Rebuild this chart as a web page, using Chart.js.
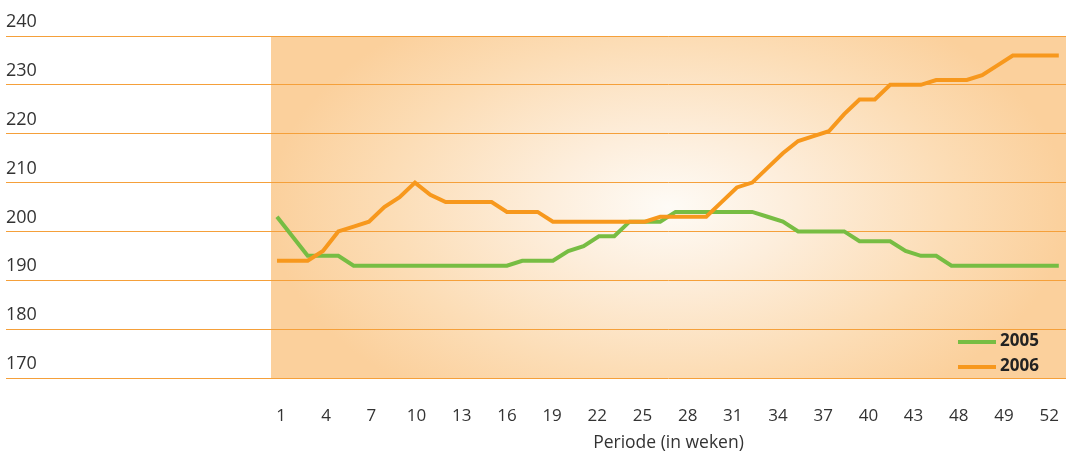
<!DOCTYPE html>
<html>
<head>
<meta charset="utf-8">
<script src="https://cdn.jsdelivr.net/npm/chart.js@4.4.1/dist/chart.umd.min.js"></script>
<style>
  html, body { margin: 0; padding: 0; background: #fff; }
  #wrap { width: 1066px; height: 457px; }
</style>
</head>
<body>
<div id="wrap"><canvas id="myChart" width="1066" height="457"></canvas></div>
<script>
// weeks 1..52
let weeks = [];
for (let i = 1; i <= 52; i++) weeks.push(i);

let sales2005 = [203, 199, 195, 195, 195, 193, 193, 193, 193, 193, 193, 193, 193, 193, 193, 193,
  194, 194, 194, 196, 197, 199, 199, 202, 202, 202, 204, 204, 204, 204, 204, 204,
  203, 202, 200, 200, 200, 200, 198, 198, 198, 196, 195, 195, 193, 193, 193, 193,
  193, 193, 193, 193];

let sales2006 = [194, 194, 194, 196, 200, 201, 202, 205, 207, 210, 207.5, 206, 206, 206, 206, 204,
  204, 204, 202, 202, 202, 202, 202, 202, 202, 203, 203, 203, 203, 206, 209, 210,
  213, 216, 218.5, 219.5, 220.5, 224, 227, 227, 230, 230, 230, 231, 231, 231, 232, 234,
  236, 236, 236, 236];

// tick positions (every 3 weeks) and the labels printed under them
let tickWeeks = [1, 4, 7, 10, 13, 16, 19, 22, 25, 28, 31, 34, 37, 40, 43, 46, 49, 52];
let tickLabels = ['1', '4', '7', '10', '13', '16', '19', '22', '25', '28', '31', '34', '37', '40', '43', '48', '49', '52'];

let seriesNames = ['2005', '2006'];
let seriesColors = ['#77BD43', '#F7981D'];

Chart.defaults.font.family = "'Open Sans', sans-serif";
Chart.defaults.color = '#333';

// radial background behind the plot
const backdrop = {
  id: 'backdrop',
  beforeDraw(chart) {
    const {ctx, chartArea} = chart;
    const cx = chartArea.left + (chartArea.right - chartArea.left) * 0.5;
    const cy = chartArea.top + (chartArea.bottom - chartArea.top) * 0.5;
    const rx = 400, ry = 235;
    ctx.save();
    ctx.beginPath();
    ctx.rect(chartArea.left, chartArea.top, chartArea.right - chartArea.left, chartArea.bottom - chartArea.top);
    ctx.clip();
    ctx.translate(cx, cy);
    ctx.scale(1, ry / rx);
    const g = ctx.createRadialGradient(0, 0, 0, 0, 0, rx);
    g.addColorStop(0, '#FEFBF6');
    g.addColorStop(0.3, '#FDEEDC');
    g.addColorStop(0.7, '#FCDDB6');
    g.addColorStop(1, '#FBD09C');
    ctx.fillStyle = g;
    ctx.fillRect(-rx * 2, -rx * 2, rx * 4, rx * 4);
    ctx.restore();
  }
};

// legend in the lower right corner of the plot
const cornerLegend = {
  id: 'cornerLegend',
  afterDraw(chart) {
    const {ctx, chartArea} = chart;
    const x0 = chartArea.right - 108;
    const rows = [chartArea.bottom - 36, chartArea.bottom - 11];
    ctx.save();
    ctx.font = "bold 17px 'Open Sans', sans-serif";
    ctx.textBaseline = 'middle';
    ctx.textAlign = 'left';
    chart.data.datasets.forEach((ds, i) => {
      const y = rows[i];
      ctx.strokeStyle = ds.borderColor;
      ctx.lineWidth = 4;
      ctx.beginPath();
      ctx.moveTo(x0, y);
      ctx.lineTo(x0 + 38, y);
      ctx.stroke();
      ctx.fillStyle = '#222';
      ctx.fillText(ds.label, x0 + 42, y - 1);
    });
    ctx.restore();
  }
};

const ctx = document.getElementById('myChart');

const myChart = new Chart(ctx, {
  type: 'line',
  data: {
    labels: weeks,
    datasets: [
      {
        label: seriesNames[0],
        data: sales2005,
        borderColor: seriesColors[0],
        backgroundColor: seriesColors[0],
        borderWidth: 4,
        pointRadius: 0,
        tension: 0,
        order: 1
      },
      {
        label: seriesNames[1],
        data: sales2006,
        borderColor: seriesColors[1],
        backgroundColor: seriesColors[1],
        borderWidth: 4,
        pointRadius: 0,
        tension: 0,
        order: 0
      }
    ]
  },
  options: {
    responsive: false,
    animation: false,
    devicePixelRatio: 1,
    layout: { padding: { left: 6, top: 36, right: 0, bottom: 0 } },
    plugins: {
      legend: { display: false },
      tooltip: { enabled: false }
    },
    scales: {
      x: {
        type: 'linear',
        display: false,
        min: 0.609,
        max: 52.47
      },
      xt: {
        type: 'linear',
        position: 'bottom',
        min: 0.336,
        max: 53.12,
        grid: { display: false },
        border: { display: false },
        afterBuildTicks(scale) {
          scale.ticks = tickWeeks.map(v => ({ value: v }));
        },
        afterFit(scale) {
          scale.height = 79;
          scale.paddingLeft = 0;
          scale.paddingRight = 0;
        },
        ticks: {
          autoSkip: false,
          maxRotation: 0,
          padding: 20,
          color: '#333',
          font: { size: 17 },
          callback: (value, index) => tickLabels[index]
        },
        title: {
          display: true,
          text: 'Periode (in weken)',
          color: '#333',
          font: { size: 17.5 },
          padding: { top: 15, bottom: 3 }
        }
      },
      y: {
        min: 170,
        max: 240,
        afterFit(scale) {
          scale.width = 265;
        },
        border: { display: false },
        grid: {
          color: '#F5A03A',
          lineWidth: 1,
          drawTicks: true,
          tickLength: 265,
          tickColor: '#F5A03A'
        },
        ticks: {
          stepSize: 10,
          crossAlign: 'far',
          labelOffset: -14,
          padding: 0,
          color: '#333',
          font: { size: 18 }
        }
      }
    }
  },
  plugins: [backdrop, cornerLegend]
});
</script>
</body>
</html>
